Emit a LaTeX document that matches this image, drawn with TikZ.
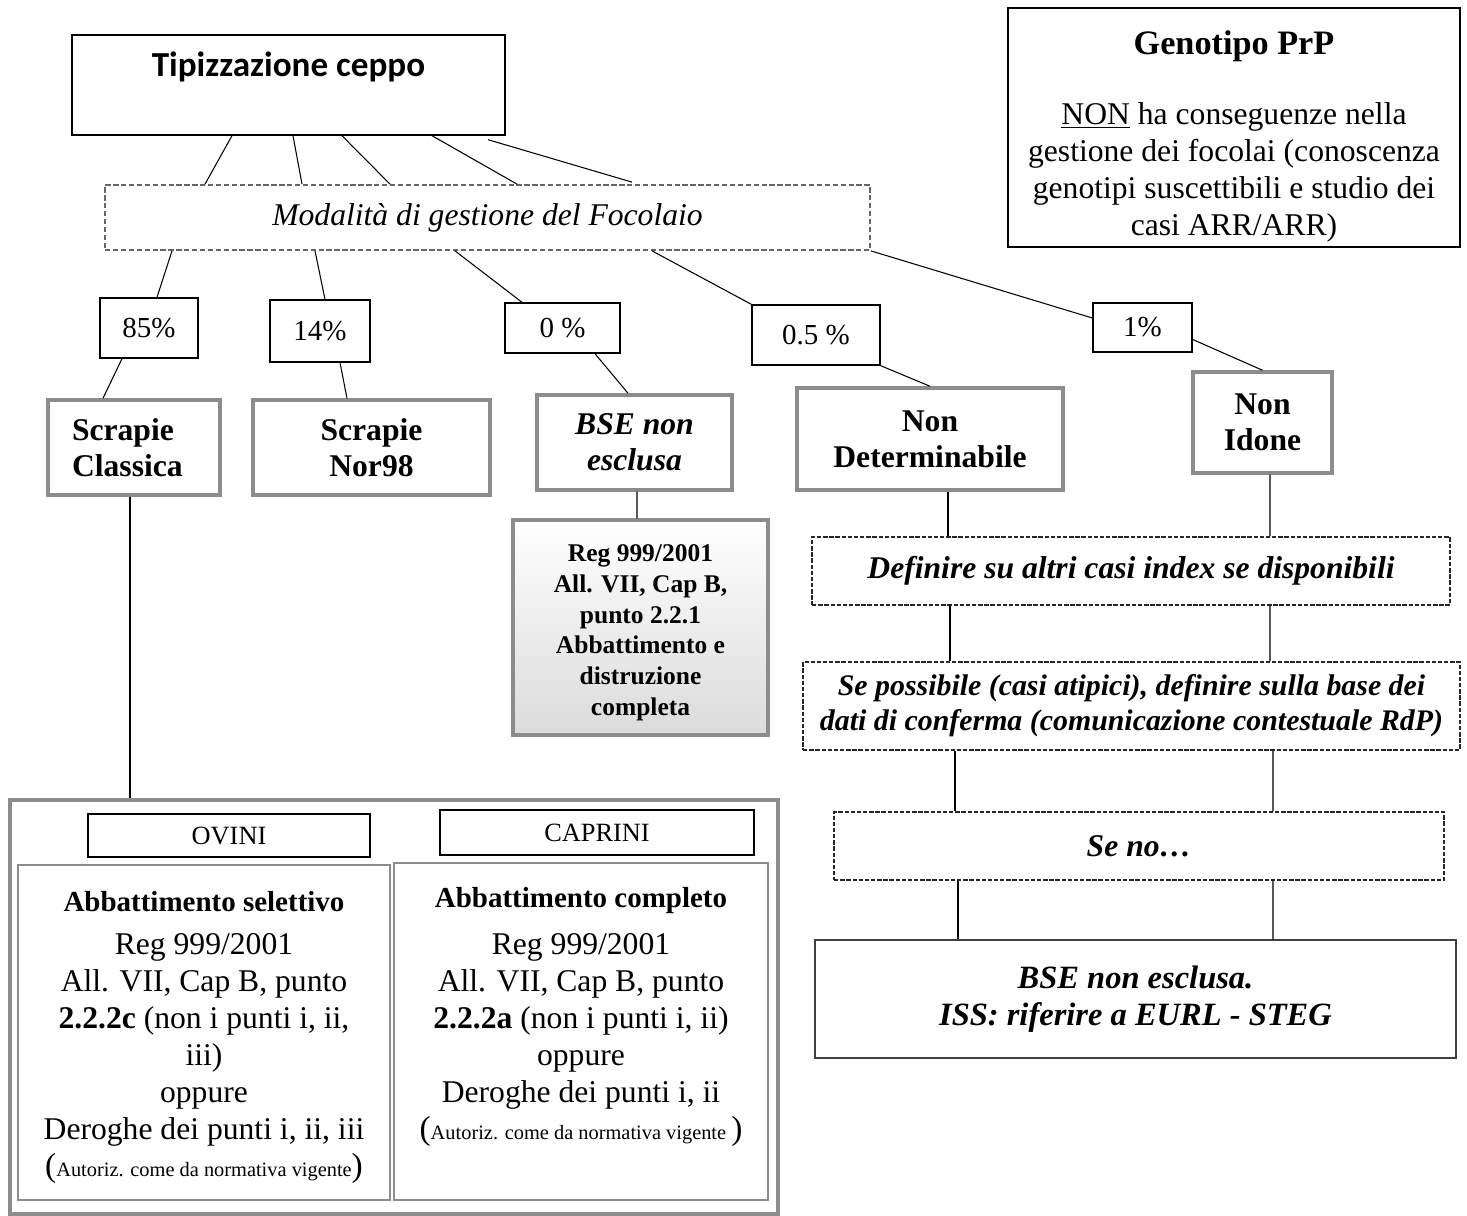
\documentclass[tikz,border=0pt]{standalone}
\usepackage{fontspec}
\setmainfont{Liberation Serif}
\newfontfamily\calibri{Carlito}
\usetikzlibrary{calc,positioning}

% font sizes
\newcommand{\szBody}{\fontsize{18pt}{21pt}\selectfont}
\newcommand{\szCat}{\fontsize{18pt}{20.5pt}\selectfont}
\newcommand{\szPct}{\fontsize{16.5pt}{19pt}\selectfont}
\newcommand{\szReg}{\fontsize{14.5pt}{17.6pt}\selectfont}
\newcommand{\szHead}{\fontsize{16.5pt}{19pt}\selectfont}
\newcommand{\autoriz}[1]{{\fontsize{19pt}{21pt}\selectfont(}{\fontsize{11.6pt}{21pt}\selectfont #1}{\fontsize{19pt}{21pt}\selectfont)}}

\begin{document}
\begin{tikzpicture}[
    x=0.02cm, y=-0.02cm,
    plainbox/.style={rectangle, draw=black, line width=0.8pt, inner sep=0pt, align=center},
    graybox/.style={rectangle, draw=black!45, line width=2pt, inner sep=0pt, align=center},
    dashbox/.style={rectangle, draw=black!85, line width=0.8pt, dash pattern=on 2.5pt off 1pt,
                    inner sep=0pt, align=center},
    pctbox/.style={plainbox, font=\szPct},
    catbox/.style={graybox, font=\bfseries\szCat},
    link/.style={draw=black, line width=0.6pt},
    thicklink/.style={draw=black, line width=1.5pt}
]
\path[use as bounding box, fill=white] (0,0) rectangle (1467,1216);

% ================= TOP =================
\node[plainbox, minimum width=8.66cm, minimum height=2cm,
      font=\calibri\bfseries\fontsize{20pt}{24pt}\selectfont] (tip) at (288.5,85)
      {Tipizzazione ceppo\\ \mbox{}};

\node[plainbox, minimum width=9.04cm, minimum height=4.78cm, font=\szBody] (gen) at (1234,127.5)
      {\rule{0pt}{24pt}{\bfseries\fontsize{19.5pt}{23pt}\selectfont Genotipo PrP}\\[18.8pt]
       \underline{NON} ha conseguenze nella\\
       gestione dei focolai (conoscenza\\
       genotipi suscettibili e studio dei\\
       casi ARR/ARR)};

\node[dashbox, draw=black!60, line width=1pt, dash pattern=on 3pt off 1.5pt,
      minimum width=15.3cm, minimum height=1.3cm, font=\itshape\szBody] (mod) at (487.5,217.5)
      {Modalità di gestione del Focolaio};

% ================= PERCENTAGES =================
\node[pctbox, minimum width=1.96cm, minimum height=1.2cm] (p85) at (149,328) {85\%};
\node[pctbox, minimum width=2cm, minimum height=1.24cm] (p14) at (320,331) {14\%};
\node[pctbox, minimum width=2.3cm, minimum height=1cm] (p0) at (562.5,328) {0 \%};
\node[pctbox, minimum width=2.56cm, minimum height=1.2cm] (p05) at (816,335) {0.5 \%};
\node[pctbox, minimum width=1.98cm, minimum height=0.98cm] (p1) at (1142.5,327.5) {1\%};

% ================= CATEGORIES =================
\node[catbox, align=left, text width=2.48cm, inner xsep=0.48cm, minimum height=1.9cm] (scl) at (134,447.5) {Scrapie\\Classica};
\node[catbox, minimum width=4.74cm, minimum height=1.9cm] (nor) at (371.5,447.5) {Scrapie\\Nor98};
\node[catbox, font=\bfseries\itshape\szCat, minimum width=3.9cm, minimum height=1.9cm] (bse) at (634.5,442.5) {BSE non\\esclusa};
\node[catbox, minimum width=5.32cm, minimum height=2.04cm] (ndet) at (930,439) {Non\\Determinabile};
\node[catbox, minimum width=2.78cm, minimum height=2.02cm] (nid) at (1262.5,422.5) {Non\\Idone};

\node[graybox, minimum width=5.1cm, minimum height=4.3cm, font=\bfseries\szReg,
      top color=white, middle color=white, bottom color=black!14] (reg) at (640.5,627.5)
      {\rule{0pt}{15.6pt}Reg 999/2001\\All. VII, Cap B,\\punto 2.2.1\\Abbattimento e\\distruzione\\completa};

% ================= SCRAPIE CLASSICA =================
\node[graybox, minimum width=15.36cm, minimum height=8.28cm] (big) at (394,1007) {};
\node[plainbox, minimum width=5.64cm, minimum height=0.86cm, font=\fontsize{15pt}{18pt}\selectfont] (ovi) at (229,835.5) {OVINI};
\node[plainbox, minimum width=6.28cm, minimum height=0.9cm, font=\fontsize{15pt}{18pt}\selectfont] (cap) at (597,832.5) {CAPRINI};

\node[graybox, line width=1pt, minimum width=7.44cm, minimum height=6.7cm, font=\szBody] (lbody) at (204,1032.5)
      {\rule{0pt}{17pt}{\bfseries\szHead Abbattimento selettivo}\\[3.5pt]
       Reg 999/2001\\
       All. VII, Cap B, punto\\
       \textbf{2.2.2c} (non i punti i, ii,\\
       iii)\\
       oppure\\
       Deroghe dei punti i, ii, iii\\
       \autoriz{Autoriz. come da normativa vigente}};
\node[graybox, line width=1pt, minimum width=7.48cm, minimum height=6.74cm, font=\szBody] (rbody) at (581,1031.5)
      {{\bfseries\szHead Abbattimento completo}\\[6pt]
       Reg 999/2001\\
       All. VII, Cap B, punto\\
       \textbf{2.2.2a} (non i punti i, ii)\\
       oppure\\
       Deroghe dei punti i, ii\\
       \autoriz{Autoriz. come da normativa vigente~}\\
       \mbox{}};

% ================= RIGHT COLUMN =================
\node[dashbox, minimum width=12.76cm, minimum height=1.36cm, font=\bfseries\itshape\szBody] (def) at (1131,571)
      {Definire su altri casi index se disponibili};
\node[dashbox, minimum width=13.14cm, minimum height=1.76cm, font=\bfseries\itshape\fontsize{17pt}{20pt}\selectfont] (sep) at (1131.5,706)
      {Se possibile (casi atipici), definire sulla base dei\\dati di conferma (comunicazione contestuale RdP)};
\node[dashbox, minimum width=12.2cm, minimum height=1.36cm, font=\bfseries\itshape\szBody] (seno) at (1139,846)
      {Se no…};
\node[plainbox, draw=black!75, minimum width=12.82cm, minimum height=2.36cm, font=\bfseries\itshape\fontsize{18.5pt}{21pt}\selectfont] (fin) at (1135.5,999)
      {BSE non esclusa.\\ISS: riferire a EURL - STEG};

% ================= CONNECTORS =================
\draw[link] ($(tip.south)+(-56.5,0)$) -- ($(mod.north)+(-282.5,0)$);
\draw[link] ($(tip.south)+(4.5,0)$) -- ($(mod.north)+(-185.5,0)$);
\draw[link] ($(tip.south)+(53.5,0)$) -- ($(mod.north)+(-97.5,0)$);
\draw[link] ($(tip.south)+(143.5,0)$) -- ($(mod.north)+(29.5,0)$);
\draw[link] ($(tip.south)+(199.5,4)$) -- ($(mod.north)+(144.5,-2)$);

\draw[link] ($(mod.south)+(-315.5,0)$) -- ($(p85.north)+(8,0)$);
\draw[link] ($(mod.south)+(-172.5,0)$) -- ($(p14.north)+(5,0)$);
\draw[link] ($(mod.south)+(-32.5,0)$) -- ($(p0.north)+(-40.5,0)$);
\draw[link] ($(mod.south)+(164.5,0)$) -- (p05.north west);
\draw[link] (mod.south east) -- ($(p1.west)+(0,-9.5)$);

\draw[link] ($(p85.south)+(-27,0)$) -- ($(scl.north)+(-31,0)$);
\draw[link] ($(p14.south)+(20,0)$) -- ($(nor.north)+(-24.5,0)$);
\draw[link] ($(p0.south)+(32.5,0)$) -- ($(bse.north)+(-6.5,0)$);
\draw[link] (p05.south east) -- (ndet.north);
\draw[link] ($(p1.east)+(0,12)$) -- (nid.north);

\draw[link] ($(bse.south)+(2.5,0)$) -- ($(reg.north)+(-3.5,0)$);
\draw[thicklink] ($(scl.south)+(-4,0)$) -- ($(big.north)+(-264,0)$);

\draw[link] ($(ndet.south)+(18,0)$) -- ($(def.north)+(-183,0)$);
\draw[link] ($(nid.south)+(7.5,0)$) -- ($(def.north)+(139,0)$);
\draw[link] ($(def.south)+(-181,0)$) -- ($(sep.north)+(-181.5,0)$);
\draw[link] ($(def.south)+(139,0)$) -- ($(sep.north)+(138.5,0)$);
\draw[link] ($(sep.south)+(-176.5,0)$) -- ($(seno.north)+(-184,0)$);
\draw[link] ($(sep.south)+(141.5,0)$) -- ($(seno.north)+(134,0)$);
\draw[link] ($(seno.south)+(-181,0)$) -- ($(fin.north)+(-177.5,0)$);
\draw[link] ($(seno.south)+(134,0)$) -- ($(fin.north)+(137.5,0)$);

\end{tikzpicture}
\end{document}
